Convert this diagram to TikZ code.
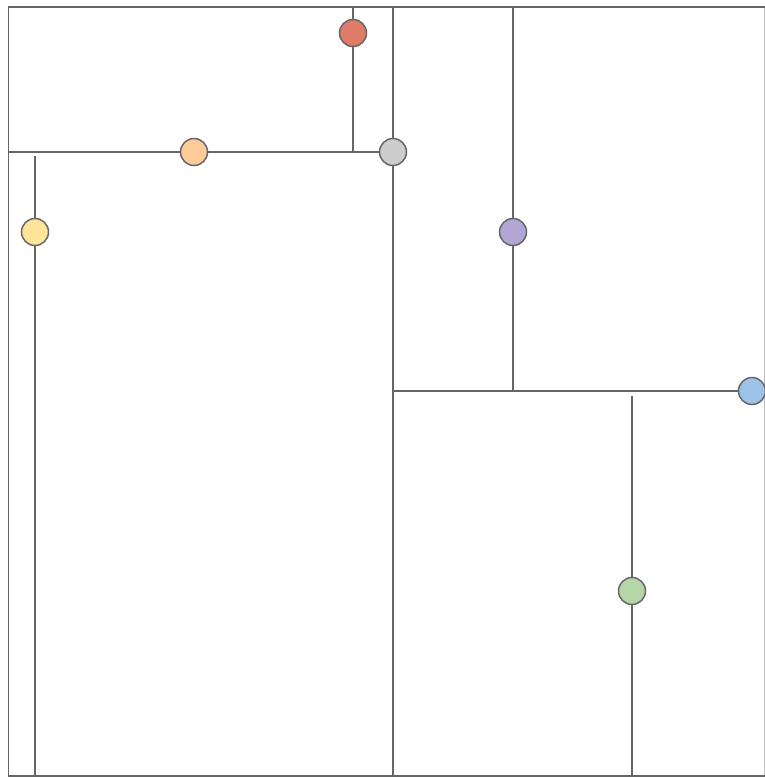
\documentclass[tikz,border=0pt]{standalone}
\begin{document}
\begin{tikzpicture}[x=1pt,y=-1pt,
  ln/.style={draw=black!60, line width=1.5pt},
  dot/.style={circle, draw=black!60, line width=1.5pt, minimum size=27pt, inner sep=0pt}]
\useasboundingbox (0,0) rectangle (765,777);
% frame coordinates
\coordinate (tl) at (8.5,7);
\coordinate (tr) at (765,7);
\coordinate (bl) at (8.5,776);
\coordinate (br) at (765,776);
\coordinate (mt) at (393,7);
\coordinate (mb) at (393,776);
\coordinate (hl) at (8.5,152);
\coordinate (rt) at (353,7);
\coordinate (rb) at (353,152);
\coordinate (yt) at (35,156);
\coordinate (yb) at (35,776);
\coordinate (pt) at (513,7);
\coordinate (pb) at (513,391);
\coordinate (hm) at (393,391);
\coordinate (hr) at (765,391);
\coordinate (gt) at (632,396);
\coordinate (gb) at (632,776);
\draw[draw=black!25, line width=1.5pt] (764.5,7) -- (764.5,776);
\draw[ln] (tr) -- (tl) -- (bl) -- (br);
\draw[ln] (mt) -- (mb);
\draw[ln] (hl) -- (393,152);
\draw[ln] (rt) -- (rb);
\draw[ln] (yt) -- (yb);
\draw[ln] (pt) -- (pb);
\draw[ln] (hm) -- (hr);
\draw[ln] (gt) -- (gb);
% nodes
\node[dot, fill={rgb,255:red,224;green,123;blue,103}] (red) at (353,33) {};
\node[dot, fill={rgb,255:red,253;green,203;blue,154}] (orange) at (194,152) {};
\node[dot, fill={rgb,255:red,204;green,204;blue,204}] (gray) at (393,152) {};
\node[dot, fill={rgb,255:red,255;green,229;blue,153}] (yellow) at (35,232) {};
\node[dot, fill={rgb,255:red,179;green,165;blue,213}] (purple) at (513,232) {};
\node[dot, fill={rgb,255:red,157;green,195;blue,230}] (blue) at (752,391) {};
\node[dot, fill={rgb,255:red,181;green,214;blue,167}] (green) at (632,591) {};
\end{tikzpicture}
\end{document}
